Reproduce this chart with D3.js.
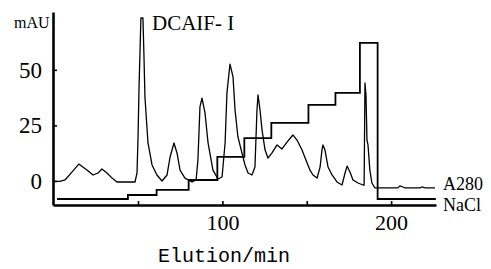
<!DOCTYPE html>
<html>
<head>
<meta charset="utf-8">
<script src="https://cdn.jsdelivr.net/npm/d3@7"></script>
<style>
body { margin: 0; background: #fff; }
text { font-family: "Liberation Serif", serif; fill: #000; }
</style>
</head>
<body>
<div id="chromatogram"></div>
<script>
// A280 trace (time in min, absorbance in mAU)
const A280_TIME = [0, 3.7, 6.7, 10.8, 14.9, 19.7, 23.3, 26.3, 28.6, 31.6, 34.6, 37.5, 48.2, 49.4, 50.0, 50.6,
    51.7, 52.9, 53.5, 54.1, 55.9, 58.3, 61.2, 64.2, 67.2, 69.0, 71.3, 73.1, 74.9, 77.8, 82.0, 84.4, 85.5,
    86.7, 87.9, 89.7, 91.5, 94.4, 97.4, 99.8, 101.6, 102.7, 104.5, 106.3, 107.5, 109.2, 111.6, 113.4, 115.2,
    117.5, 119.3, 120.5, 121.1, 122.3, 123.5, 125.3, 127.0, 129.4, 132.4, 135.3, 138.3, 141.8, 144.2, 147.2,
    150.2, 151.9, 153.7, 156.1, 157.9, 159.0, 159.6, 160.8, 162.6, 165.0, 167.9, 170.9, 172.7, 173.9, 175.6,
    177.4, 180.4, 183.3, 184.0, 184.5, 185.1, 185.7, 186.3, 187.4, 188.6, 190.4, 204.0, 205.2, 207.0, 208.2,
    217.1, 218.3, 220.1, 226.0]
const A280_VALUE = [-0.2, -0.2, 0.45, 4.0, 7.6, 4.9, 2.7, 3.6, 5.4, 3.6, 1.3, -0.45, -0.45, 3.6, 19.8, 42.3,
    73.3, 73.3, 56.7, 37.8, 17.1, 7.2, 2.7, 0, 2.7, 10.8, 17.1, 12.6, 4.9, 1.3, -0.45, 0.45, 9.4,
    33.3, 37.3, 30.6, 17.1, 4.9, 0.9, 1.8, 17.1, 39.6, 52.6, 46.8, 31.9, 19.8, 12.6, 7.2, 3.6,
    2.7, 6.3, 31.9, 38.7, 31.9, 22.9, 13.9, 10.3, 12.6, 16.2, 14.4, 17.5, 20.7, 18.4, 13.9,
    8.1, 4.9, 2.7, 1.3, 6.3, 13.9, 16.2, 13.9, 6.3, 2.7, -0.45, -1.8, 3.6, 6.7, 4.0,
    0.45, -0.9, -1.8, -1.8, 44.1, 38.7, 18.4, 16.2, 4.9, -0.9, -3.1, -3.1, -2.2, -2.7, -3.1,
    -3.1, -2.7, -3.1, -3.1]

// NaCl step gradient, drawn on the same vertical scale
const NACL_TIME = [2, 44, 61, 80, 97, 113, 129, 151, 167, 181.5, 192, 226.5]
const NACL_LEVEL = [-8.1, -6.3, -4.0, 0.45, 10.8, 19.3, 26.1, 34.2, 39.6, 62.1, -8.1, -8.1]

const X_TICKS = [50, 100, 150, 200]
const X_LABELS = ["", "100", "", "200"]
const Y_TICKS = [0, 25, 50]
const Y_LABELS = ["0", "25", "50"]

const WIDTH = 491,
    HEIGHT = 269

const x = d3.scaleLinear().domain([-0.4, 226.6]).range([53, 436])
const y = d3.scaleLinear().domain([-10.8, 76]).range([205, 12])

let svg = d3.select("#chromatogram")
    .append("svg")
    .attr("width", WIDTH)
    .attr("height", HEIGHT)

// axes: inside ticks, thick domain lines
let xAxis = svg.append("g")
    .attr("transform", "translate(0," + y.range()[0] + ")")
    .call(d3.axisBottom(x)
        .tickValues(X_TICKS)
        .tickFormat((d, i) => X_LABELS[i])
        .tickSize(-4)
        .tickSizeOuter(0)
        .tickPadding(9))
let yAxis = svg.append("g")
    .attr("transform", "translate(" + x.range()[0] + ",0)")
    .call(d3.axisLeft(y)
        .tickValues(Y_TICKS)
        .tickFormat((d, i) => Y_LABELS[i])
        .tickSize(-4)
        .tickSizeOuter(0)
        .tickPadding(11))

svg.selectAll(".domain")
    .attr("stroke", "#000")
    .attr("stroke-width", 2.6)
svg.selectAll(".tick line")
    .attr("stroke", "#000")
    .attr("stroke-width", 1.6)
svg.selectAll("g").attr("font-family", null)
xAxis.selectAll("text")
    .style("font-family", "'Liberation Serif', serif")
    .style("font-size", "22px")
    .attr("fill", "#000")
yAxis.selectAll("text")
    .style("font-family", "'Liberation Serif', serif")
    .style("font-size", "23px")
    .attr("fill", "#000")

// traces
let a280Line = d3.line()
    .x((d, i) => x(A280_TIME[i]))
    .y(d => y(d))
svg.append("path")
    .datum(A280_VALUE)
    .attr("fill", "none")
    .attr("stroke", "#000")
    .attr("stroke-width", 1.3)
    .attr("stroke-linejoin", "round")
    .attr("d", a280Line)

let naclLine = d3.line()
    .x((d, i) => x(NACL_TIME[i]))
    .y(d => y(d))
    .curve(d3.curveStepAfter)
svg.append("path")
    .datum(NACL_LEVEL)
    .attr("fill", "none")
    .attr("stroke", "#000")
    .attr("stroke-width", 1.8)
    .attr("d", naclLine)

// labels
svg.append("text")
    .attr("x", 14).attr("y", 28)
    .style("font-size", "16px")
    .text("mAU")
svg.append("text")
    .attr("x", 152).attr("y", 30)
    .style("font-size", "21px")
    .text("DCAIF- I")
svg.append("text")
    .attr("x", 443).attr("y", 190)
    .style("font-size", "18px")
    .text("A280")
svg.append("text")
    .attr("x", 443).attr("y", 211)
    .style("font-size", "18px")
    .text("NaCl")
svg.append("text")
    .attr("x", 158).attr("y", 262)
    .style("font-family", "'Liberation Mono', monospace")
    .style("font-size", "20px")
    .text("Elution/min")
</script>
</body>
</html>
